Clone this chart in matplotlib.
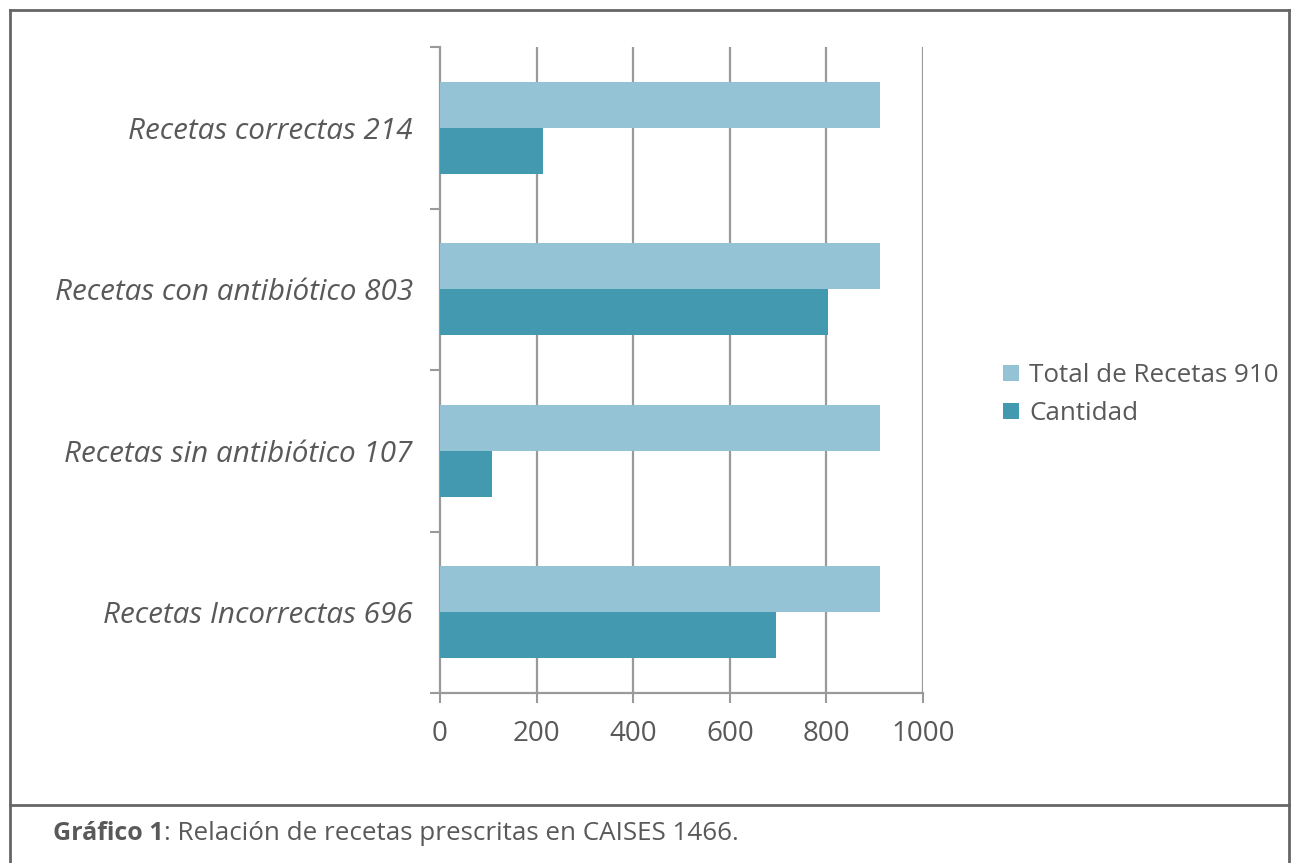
import matplotlib
matplotlib.use("Agg")
import matplotlib.pyplot as plt
from matplotlib.lines import Line2D
import numpy as np

categories = ["Recetas correctas 214", "Recetas con antibiótico 803",
              "Recetas sin antibiótico 107", "Recetas Incorrectas 696"]
total = [910, 910, 910, 910]
cantidad = [214, 803, 107, 696]
series_names = ["Total de Recetas 910", "Cantidad"]
xticks = [0, 200, 400, 600, 800, 1000]

plt.rcParams['font.family'] = ['Open Sans', 'DejaVu Sans']
TXT = "#595959"
LIGHT = "#93C3D4"
DARK = "#4399B0"
GRID = "#9a9a9a"

fig = plt.figure(figsize=(12.91, 8.63), dpi=100)
ax = fig.add_axes([440/1291, 1-693/863, (923-440)/1291, (693-47)/863])

pos = np.arange(len(categories)) + 0.5
h = 0.285
ax.barh(pos - h/2, total, height=h, color=LIGHT, label=series_names[0], zorder=3)
ax.barh(pos + h/2, cantidad, height=h, color=DARK, label=series_names[1], zorder=3)

ax.set_ylim(len(categories), 0)
ax.set_xlim(0, 1000)
ax.set_xticks(xticks)
ax.set_xticklabels([str(t) for t in xticks], fontsize=20, color=TXT)
ax.set_yticks(np.arange(len(categories)+1))
ax.set_yticklabels([])
ax.set_yticks(pos, minor=True)
ax.set_yticklabels(categories, minor=True, fontsize=21.3, style='italic', color=TXT)
ax.tick_params(axis='y', which='minor', length=0, pad=19.5)
ax.tick_params(axis='y', which='major', length=7.5, width=1.5, color=GRID)
ax.tick_params(axis='x', length=7.5, width=1.5, color=GRID, pad=12)
for t in xticks[1:]:
    ax.axvline(t, color=GRID, lw=1.6, zorder=1)
for s in ['top', 'right']:
    ax.spines[s].set_visible(False)
for s in ['left', 'bottom']:
    ax.spines[s].set_color(GRID)
    ax.spines[s].set_linewidth(1.6)

leg = fig.legend(loc='upper left', bbox_to_anchor=(980/1291, 1-340/863), frameon=False,
                 fontsize=18.7, handlelength=0.6, handleheight=0.6, handletextpad=0.4,
                 labelspacing=0.5, labelcolor=TXT)

# frame
lc = "#666666"
fig.add_artist(Line2D([10/1291, 10/1291], [0, 1-10/863], color=lc, lw=2, transform=fig.transFigure))
fig.add_artist(Line2D([1289/1291, 1289/1291], [0, 1-10/863], color=lc, lw=2, transform=fig.transFigure))
fig.add_artist(Line2D([10/1291, 1289/1291], [1-10/863, 1-10/863], color=lc, lw=2, transform=fig.transFigure))
fig.add_artist(Line2D([10/1291, 1289/1291], [1-805/863, 1-805/863], color=lc, lw=2, transform=fig.transFigure))

t1 = fig.text(53/1291, 1-833/863, "Gráfico 1", fontsize=18, fontweight='bold', color=TXT, va='center')
fig.canvas.draw()
bb = t1.get_window_extent(fig.canvas.get_renderer())
fig.text(bb.x1/1291, 1-833/863, ": Relación de recetas prescritas en CAISES 1466.", fontsize=18.7, color=TXT, va='center')

fig.savefig("out.png", dpi=100)
